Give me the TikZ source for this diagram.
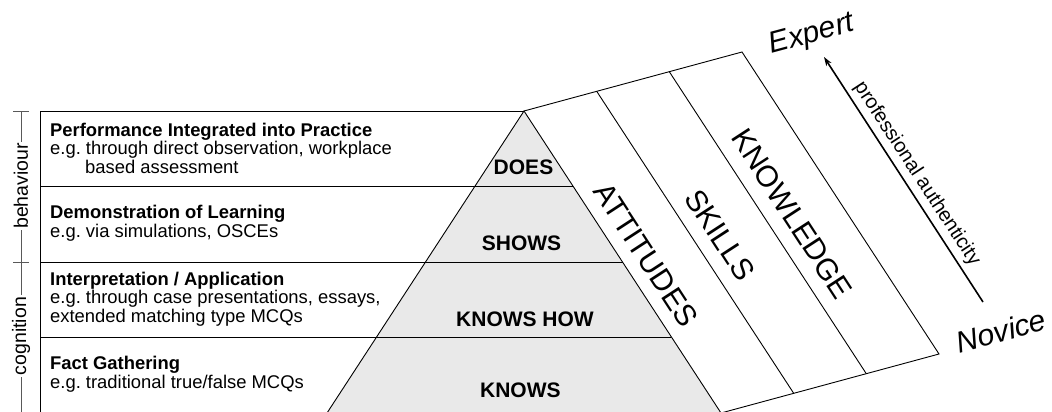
\documentclass[tikz,border=0pt]{standalone}
\usepackage{fontspec}
\setmainfont{Liberation Sans}
\usetikzlibrary{arrows.meta}
\definecolor{pyr}{HTML}{E9E9E9}
\frenchspacing
\begin{document}
\begin{tikzpicture}[x=1pt,y=-1pt,
  edge/.style={draw=black, line width=0.9pt},
  brk/.style={draw=black!65, line width=1pt},
  lefttext/.style={anchor=west, align=left, font=\fontsize{18.4}{18.5}\selectfont, inner sep=0pt},
  level/.style={font=\fontsize{21}{21}\bfseries\selectfont, inner sep=0pt},
  band/.style={font=\fontsize{30}{30}\selectfont, rotate=-56.9, inner sep=0pt},
  axislabel/.style={font=\fontsize{30}{30}\itshape\selectfont, rotate=15, inner sep=0pt},
  side/.style={font=\fontsize{19.5}{19.5}\selectfont, rotate=90, fill=white, inner sep=1.5pt},
  arrowlabel/.style={font=\fontsize{20}{20}\selectfont, rotate=-56.9, inner sep=0pt},
]
\useasboundingbox (0,0) rectangle (1052,412);
% key points
\coordinate (apex) at (524,111);
\coordinate (pl) at (327,413);
\coordinate (pr) at (721,413);
\coordinate (B) at (742,52);
\coordinate (C) at (939,354);
\coordinate (d1t) at (596.7,91.3);
\coordinate (d1b) at (793.7,393.3);
\coordinate (d2t) at (669.3,71.7);
\coordinate (d2b) at (866.3,373.7);
% pyramid
\fill[pyr] (apex) -- (pl) -- (pr) -- cycle;
% box and levels
\draw[edge] (40,413) -- (40,111) -- (apex);
\draw[edge] (40,186) -- (572.9,186);
\draw[edge] (40,262) -- (622.5,262);
\draw[edge] (40,337) -- (671.4,337);
\draw[edge] (pl) -- (apex) -- (pr);
% slanted bands
\draw[edge] (apex) -- (B) -- (C) -- (pr);
\draw[edge] (d1t) -- (d1b);
\draw[edge] (d2t) -- (d2b);
% left bracket
\draw[brk] (21,111) -- (21,413);
\draw[brk] (13,111) -- (29,111);
\draw[brk] (13,262) -- (29,262);
\node[side] (beh) at (21,186) {behaviour};
\node[side] (cog) at (21,336) {cognition};
% left texts
\node[lefttext] (t1) at (50,148) {\textbf{Performance Integrated into Practice}\\e.g. through direct observation, workplace\\\hspace*{35pt}based assessment};
\node[lefttext] (t2) at (50,223) {\textbf{Demonstration of Learning}\\e.g. via simulations, OSCEs};
\node[lefttext] (t3) at (50,299) {\textbf{Interpretation / Application}\\e.g. through case presentations, essays,\\extended matching type MCQs};
\node[lefttext] (t4) at (50,374) {\textbf{Fact Gathering}\\e.g. traditional true/false MCQs};
% pyramid labels
\node[level] (does) at (523.5,167.5) {DOES};
\node[level] (shows) at (521.5,243) {SHOWS};
\node[level] (knowshow) at (525,319) {KNOWS HOW};
\node[level] (knows) at (520.4,390) {KNOWS};
% band labels
\node[band] (att) at (646,255) {ATTITUDES};
\node[band] (skl) at (720,235) {SKILLS};
\node[band] (knw) at (792,214) {KNOWLEDGE};
% axis
\node[axislabel] (exp) at (812,35) {Expert};
\node[axislabel] (nov) at (1001,331) {Novice};
\coordinate (atail) at (983,302);
\coordinate (ahead) at (824,57);
\draw[line width=1.6pt, -{Stealth[length=9pt,width=6pt]}] (atail) -- (ahead);
\node[arrowlabel] (auth) at (917,174) {professional authenticity};
\end{tikzpicture}
\end{document}
